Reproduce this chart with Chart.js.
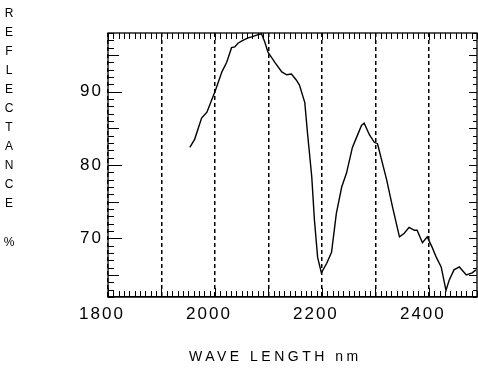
<!DOCTYPE html>
<html>
<head>
<meta charset="utf-8">
<script src="https://cdn.jsdelivr.net/npm/chart.js@4/dist/chart.umd.min.js"></script>
<style>
  html, body { margin: 0; padding: 0; background: #fff; }
  #wrap { width: 478px; height: 370px; position: relative; }
</style>
</head>
<body>
<div id="wrap"><canvas id="c" width="478" height="370"></canvas></div>
<script>
// ---- data ----
const wavelength = [1953,1962,1975,1985,1994,2000,2013,2022,2031,2037,2043,2052,2061,2070,2078,2087,2093,2099,2112,2125,2134,2143,2152,2158,2168,2173,2181,2186,2192,2199,2209,2218,2227,2237,2246,2257,2265,2274,2279,2289,2298,2304,2313,2321,2332,2345,2354,2363,2373,2378,2388,2397,2406,2414,2423,2432,2438,2447,2457,2470,2481,2488];
const reflectance = [82.4,83.5,86.4,87.2,88.9,90,92.7,94,96,96.1,96.6,97,97.3,97.5,97.7,97.9,96.8,95.4,94,92.7,92.3,92.4,91.6,90.9,88.5,84.4,78.4,72.5,67.4,65.3,66.6,68.1,73.4,77,78.9,82.4,83.8,85.4,85.7,84.1,83.1,82.9,80.3,78,74.3,70.2,70.7,71.5,71.1,71.1,69.4,70.2,68.8,67.4,66.1,62.9,64.3,65.7,66.1,65,65.3,65.7];
const xTickValues = [1800,1900,2000,2100,2200,2300,2400];
const xLabelValues = [1800,2000,2200,2400];
const yTickValues = [70,80,90];
const yTitleLetters = ['R','E','F','L','E','C','T','A','N','C','E','','%'];
const xTitle = 'WAVE LENGTH nm';

const points = wavelength.map((w, i) => ({ x: w, y: reflectance[i] }));

const framePlugin = {
  id: 'frame',
  beforeDraw(chart) {
    chart.ctx.letterSpacing = '2px';
  },
  afterDraw(chart) {
    const ctx = chart.ctx;
    const a = chart.chartArea;
    const xs = chart.scales.x, ys = chart.scales.y;
    ctx.save();
    ctx.strokeStyle = '#000';
    ctx.lineWidth = 1.3;
    ctx.setLineDash([]);
    ctx.strokeRect(a.left, a.top, a.right - a.left, a.bottom - a.top);
    ctx.beginPath();
    // x minor ticks every 10 nm (top and bottom, inward)
    for (let v = xs.min; v <= xs.max; v += 10) {
      const px = Math.round(xs.getPixelForValue(v)) + 0.5;
      const major = v % 100 === 0;
      const lb = major ? 9 : 6;
      const lt = major ? 7 : 6;
      ctx.moveTo(px, a.bottom); ctx.lineTo(px, a.bottom - lb);
      ctx.moveTo(px, a.top); ctx.lineTo(px, a.top + lt);
    }
    // y minor ticks every 1 % (left and right, inward)
    for (let v = Math.ceil(ys.min); v <= ys.max; v += 1) {
      const py = Math.round(ys.getPixelForValue(v)) + 0.5;
      let ll = 6, lr = 4;
      if (v % 10 === 0) { ll = 14; lr = 8; }
      else if (v % 5 === 0) { ll = 11; lr = 8; }
      ctx.moveTo(a.left, py); ctx.lineTo(a.left + ll, py);
      ctx.moveTo(a.right, py); ctx.lineTo(a.right - lr, py);
    }
    ctx.lineWidth = 1;
    ctx.stroke();
    ctx.fillStyle = '#000';
    // x axis title
    ctx.font = '14px "Liberation Sans", Arial, sans-serif';
    ctx.letterSpacing = '3.5px';
    ctx.textAlign = 'left';
    ctx.textBaseline = 'middle';
    ctx.fillText(xTitle, 189, 357);
    // vertical stacked y title
    ctx.font = '12px "Liberation Sans", Arial, sans-serif';
    ctx.letterSpacing = '0px';
    ctx.textAlign = 'center';
    let y = 14;
    yTitleLetters.forEach(ch => {
      if (ch) ctx.fillText(ch, 9, y);
      y += ch ? 19 : 20;
    });
    ctx.restore();
  }
};

new Chart(document.getElementById('c'), {
  type: 'line',
  data: {
    datasets: [{
      data: points,
      borderColor: '#000',
      borderWidth: 1.4,
      pointRadius: 0,
      tension: 0,
      fill: false
    }]
  },
  options: {
    responsive: false,
    animation: false,
    devicePixelRatio: 1,
    layout: { padding: { top: 33, right: 1, left: 0, bottom: 0 } },
    plugins: { legend: { display: false }, tooltip: { enabled: false } },
    scales: {
      x: {
        type: 'linear',
        min: 1800,
        max: 2490,
        afterFit(s) { s.height = 73; },
        afterBuildTicks(s) { s.ticks = xTickValues.map(v => ({ value: v })); },
        grid: {
          display: true,
          drawTicks: false,
          color: '#000',
          lineWidth: 1.5
        },
        border: { display: true, color: '#000', width: 1.3, dash: [4, 3] },
        ticks: {
          color: '#000',
          font: { family: '"Liberation Sans", Arial, sans-serif', size: 17 },
          padding: 7,
          labelOffset: -6,
          maxRotation: 0,
          autoSkip: false,
          callback: (v) => xLabelValues.includes(v) ? String(v) : ''
        },
        title: { display: false }
      },
      y: {
        type: 'linear',
        min: 62,
        max: 98,
        afterFit(s) { s.width = 108; },
        afterBuildTicks(s) { s.ticks = yTickValues.map(v => ({ value: v })); },
        grid: { display: false, drawTicks: false },
        border: { display: false },
        ticks: {
          color: '#000',
          font: { family: '"Liberation Sans", Arial, sans-serif', size: 17 },
          padding: 5,
          callback: (v) => String(v)
        }
      }
    }
  },
  plugins: [framePlugin]
});
</script>
</body>
</html>
